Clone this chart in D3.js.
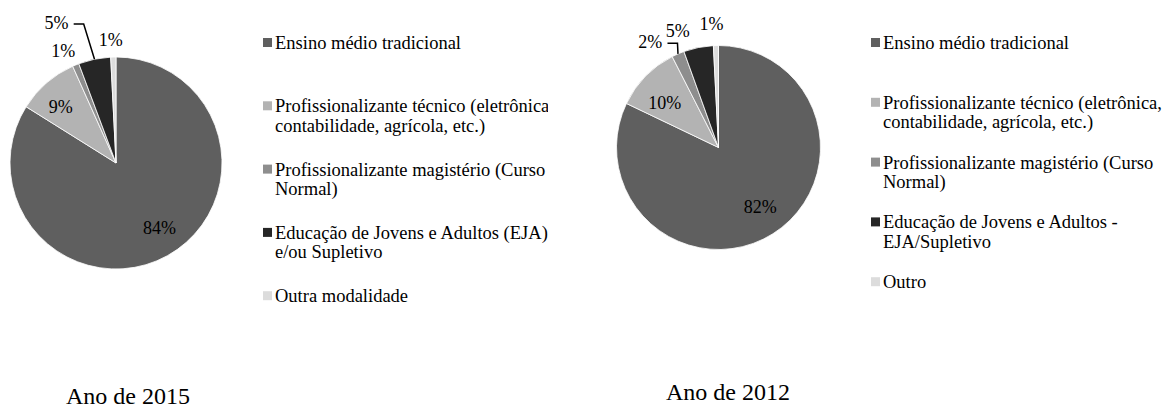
<!DOCTYPE html>
<html>
<head>
<meta charset="utf-8">
<script src="https://cdnjs.cloudflare.com/ajax/libs/d3/7.8.5/d3.min.js"></script>
<style>
  body { margin: 0; background: #fff; }
</style>
</head>
<body>
<div id="chart"></div>
<script>
// Data: categories and values
var categories2015 = [
  ["Ensino médio tradicional"],
  ["Profissionalizante técnico (eletrônica,", "contabilidade, agrícola, etc.)"],
  ["Profissionalizante magistério (Curso", "Normal)"],
  ["Educação de Jovens e Adultos (EJA)", "e/ou Supletivo"],
  ["Outra modalidade"]
];
var values2015 = [83.9, 9.4, 1.0, 4.9, 0.8];
var labels2015 = ["84%", "9%", "1%", "5%", "1%"];

var categories2012 = [
  ["Ensino médio tradicional"],
  ["Profissionalizante técnico (eletrônica,", "contabilidade, agrícola, etc.)"],
  ["Profissionalizante magistério (Curso", "Normal)"],
  ["Educação de Jovens e Adultos -", "EJA/Supletivo"],
  ["Outro"]
];
var values2012 = [82.1, 10.4, 2.0, 4.7, 0.8];
var labels2012 = ["82%", "10%", "2%", "5%", "1%"];

var titles = ["Ano de 2015", "Ano de 2012"];

var colors = ["#5f5f5f", "#b3b3b3", "#8e8e8e", "#262626", "#dcdcdc"];

var serif = "'Liberation Serif', Tinos, 'Times New Roman', 'DejaVu Serif', serif";

// SVG area
var svgWidth = 1166;
var svgHeight = 409;

var svg = d3.select("#chart")
  .append("svg")
  .attr("width", svgWidth)
  .attr("height", svgHeight)
  .attr("font-family", serif)
  .style("font-family", serif);

svg.append("rect")
  .attr("width", svgWidth)
  .attr("height", svgHeight)
  .attr("fill", "#fff");

// layout of each panel (positions only, no data)
var panels = [
  {
    values: values2015, labels: labels2015, cats: categories2015, title: titles[0],
    cx: 116, cy: 163, r: 106,
    legendX: 263, legendY: 43, legendStep: 63.3, clipRight: 548,
    titleX: 66, titleY: 404,
    // label nudges (dx, dy) away from the default spot, and which gets a leader line
    nudge: [[5, -5], [-3, 4], [-5, 2], [-34, -19], [-2, 0]],
    leader: 3
  },
  {
    values: values2012, labels: labels2012, cats: categories2012, title: titles[1],
    cx: 718.5, cy: 147.5, r: 102,
    legendX: 871, legendY: 43, legendStep: 59.8, clipRight: 1166,
    titleX: 666, titleY: 400,
    nudge: [[1, -5], [1, 9], [-20, 4], [-17, 0], [-4, -4]],
    leader: 2
  }
];

var pie = d3.pie().sort(null).value(d => d);

panels.forEach(function(p, pi) {
  var g = svg.append("g")
    .attr("transform", `translate(${p.cx}, ${p.cy})`);

  var arcs = pie(p.values);
  var arc = d3.arc().innerRadius(0).outerRadius(p.r);

  // slices
  g.selectAll("path")
    .data(arcs)
    .enter()
    .append("path")
    .attr("d", arc)
    .attr("fill", (d, i) => colors[i])
    .attr("stroke", "#fff")
    .attr("stroke-width", 0.8);

  // data labels
  var fontSize = 18;
  arcs.forEach(function(d, i) {
    var mid = (d.startAngle + d.endAngle) / 2;
    var sx = Math.sin(mid), sy = -Math.cos(mid);
    var share = (d.endAngle - d.startAngle) / (2 * Math.PI);
    var x, y;
    var halfW = p.labels[i].length * fontSize * 0.31;
    if (share > 0.08) {
      x = sx * p.r * 0.75;
      y = sy * p.r * 0.75;
    } else {
      x = sx * p.r * 1.08 + sx * halfW;
      y = sy * p.r * 1.08 + sy * fontSize * 0.5;
    }
    x += p.nudge[i][0];
    y += p.nudge[i][1];

    g.append("text")
      .attr("x", x)
      .attr("y", y)
      .attr("text-anchor", "middle")
      .attr("dominant-baseline", "central")
      .attr("font-size", fontSize)
      .attr("fill", "#000")
      .text(p.labels[i]);

    if (i === p.leader) {
      var x0 = x + halfW + 6;
      var y0 = y + 1;
      var ex = sx * p.r, ey = sy * p.r;
      g.append("path")
        .attr("d", d3.line()([[x0, y0], [x0 + 10, y0], [ex, ey]]))
        .attr("fill", "none")
        .attr("stroke", "#000")
        .attr("stroke-width", 1.5);
    }
  });

  // legend
  var clipId = "clip" + pi;
  svg.append("clipPath")
    .attr("id", clipId)
    .append("rect")
    .attr("x", p.legendX - 5)
    .attr("y", 0)
    .attr("width", p.clipRight - p.legendX + 5)
    .attr("height", svgHeight);

  var legend = svg.append("g")
    .attr("clip-path", `url(#${clipId})`);

  var items = legend.selectAll("g.item")
    .data(p.cats)
    .enter()
    .append("g")
    .attr("class", "item")
    .attr("transform", (d, i) => `translate(${p.legendX}, ${p.legendY + i * p.legendStep})`);

  items.append("rect")
    .attr("x", 0)
    .attr("y", -5)
    .attr("width", 9)
    .attr("height", 9)
    .attr("fill", (d, i) => colors[i]);

  items.each(function(lines) {
    var t = d3.select(this).append("text")
      .attr("font-size", 18.5)
      .attr("fill", "#000")
      .attr("dominant-baseline", "central");
    lines.forEach(function(line, li) {
      t.append("tspan")
        .attr("x", 12)
        .attr("y", li * 19.5)
        .text(line);
    });
  });

  // title below
  svg.append("text")
    .attr("x", p.titleX)
    .attr("y", p.titleY)
    .attr("font-size", 24)
    .attr("fill", "#000")
    .text(p.title);
});
</script>
</body>
</html>
